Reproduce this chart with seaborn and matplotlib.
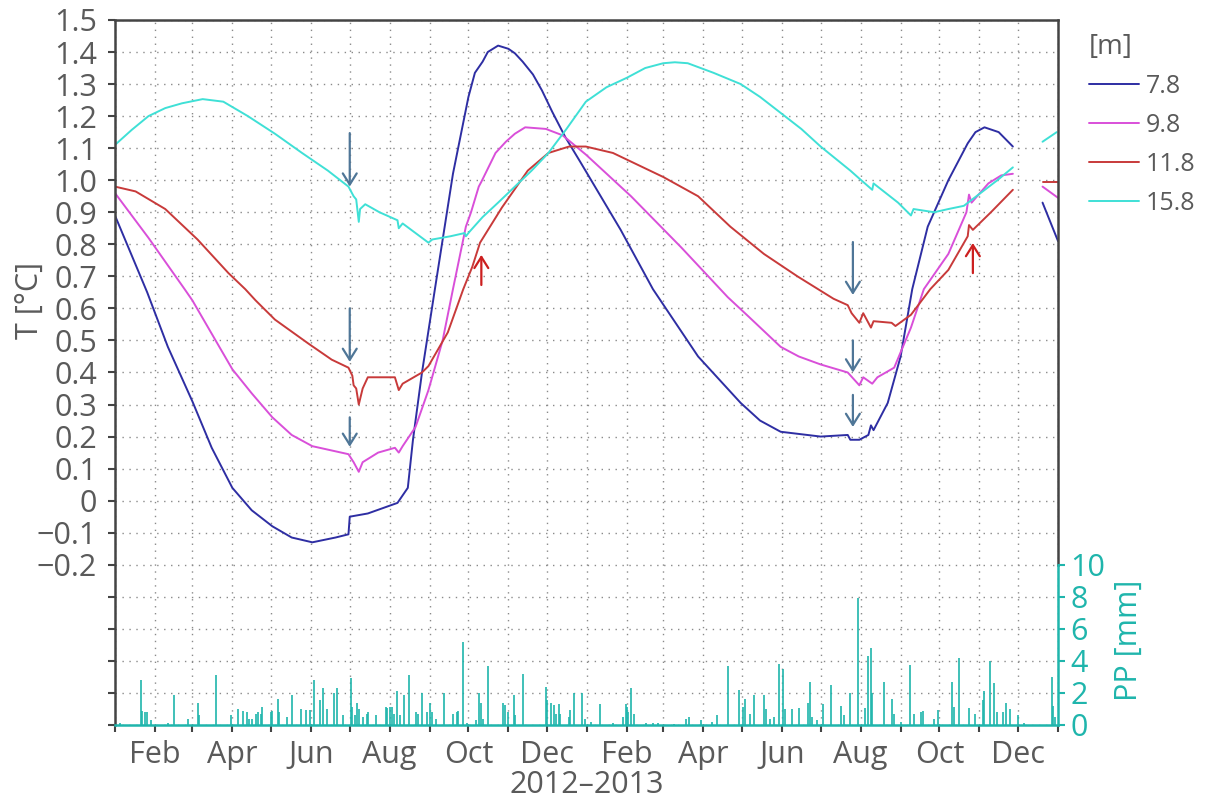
import numpy as np
import pandas as pd
import matplotlib
matplotlib.use('Agg')
import matplotlib.pyplot as plt
import matplotlib.dates as mdates
from matplotlib.ticker import FuncFormatter
import seaborn as sns

START = pd.Timestamp('2012-01-01')
END = pd.Timestamp('2014-01-01')
GAP_DAY = 705          # logger gap in Dec 2013

# ground temperature, days since 1 Jan 2012
day_78 = [0, 25, 41, 60, 75, 91, 106, 122, 137, 153, 171, 181, 182, 196, 219, 227, 231, 238, 248, 262,
          274, 279, 285, 289, 297, 305, 310, 316, 324, 331, 339, 349, 361, 392, 417, 452, 485, 500, 516, 547,
          568, 570, 577, 584, 586, 588, 599, 609, 618, 630, 646, 661, 667, 674, 685, 696, 719, 731]
t_78 = [0.89, 0.65, 0.48, 0.31, 0.165, 0.04, -0.03, -0.08, -0.115, -0.13, -0.115, -0.105, -0.05, -0.04, -0.007, 0.04, 0.19, 0.40, 0.66, 1.02,
        1.26, 1.335, 1.37, 1.40, 1.42, 1.41, 1.396, 1.37, 1.33, 1.28, 1.213, 1.135, 1.055, 0.845, 0.66, 0.45, 0.305, 0.25, 0.215, 0.20,
        0.205, 0.19, 0.19, 0.205, 0.235, 0.22, 0.305, 0.45, 0.66, 0.855, 1.0, 1.115, 1.15, 1.165, 1.15, 1.105, 0.93, 0.81]

day_98 = [0, 26, 54, 60, 91, 106, 122, 137, 153, 181, 185, 189, 192, 204, 217, 220, 223, 233, 243, 254,
          262, 272, 276, 282, 284, 295, 303, 310, 318, 334, 347, 365, 400, 439, 475, 491, 516, 530, 547, 568,
          577, 580, 587, 591, 604, 617, 627, 646, 660, 662, 664, 677, 687, 696, 719, 731]
t_98 = [0.96, 0.82, 0.66, 0.625, 0.41, 0.335, 0.26, 0.205, 0.17, 0.145, 0.12, 0.09, 0.12, 0.15, 0.165, 0.15, 0.17, 0.23, 0.345, 0.50,
        0.66, 0.855, 0.90, 0.98, 0.995, 1.085, 1.12, 1.145, 1.165, 1.16, 1.14, 1.08, 0.95, 0.79, 0.635, 0.575, 0.48, 0.45, 0.425, 0.40,
        0.36, 0.385, 0.365, 0.385, 0.415, 0.54, 0.66, 0.77, 0.90, 0.955, 0.93, 0.99, 1.015, 1.02, 0.98, 0.945]

day_118 = [0, 16, 39, 64, 88, 101, 109, 124, 150, 168, 181, 184, 185, 187, 189, 192, 196, 217, 220, 223,
           238, 243, 258, 270, 277, 283, 300, 320, 336, 352, 365, 386, 425, 452, 477, 503, 529, 557, 568, 571,
           577, 580, 586, 588, 602, 605, 617, 632, 646, 661, 662, 665, 679, 696, 719, 731]
t_118 = [0.98, 0.965, 0.91, 0.815, 0.71, 0.66, 0.625, 0.565, 0.49, 0.44, 0.415, 0.39, 0.36, 0.35, 0.30, 0.35, 0.385, 0.385, 0.345, 0.365,
         0.40, 0.42, 0.525, 0.66, 0.73, 0.805, 0.915, 1.03, 1.085, 1.105, 1.105, 1.085, 1.01, 0.95, 0.855, 0.77, 0.70, 0.63, 0.61, 0.585,
         0.555, 0.585, 0.54, 0.56, 0.555, 0.545, 0.58, 0.66, 0.72, 0.825, 0.86, 0.845, 0.90, 0.97, 0.995, 0.995]

day_158 = [0, 13, 26, 39, 52, 68, 84, 103, 124, 145, 165, 181, 185, 187, 189, 190, 194, 205, 219, 220,
           223, 238, 243, 246, 260, 271, 272, 275, 285, 297, 310, 323, 336, 350, 365, 381, 397, 411, 425, 434,
           444, 464, 485, 500, 516, 532, 547, 570, 577, 587, 588, 607, 617, 619, 635, 646, 658, 671, 684, 696,
           719, 730]
t_158 = [1.11, 1.157, 1.20, 1.225, 1.24, 1.253, 1.245, 1.20, 1.145, 1.085, 1.03, 0.98, 0.95, 0.94, 0.87, 0.91, 0.925, 0.90, 0.875, 0.85,
         0.865, 0.82, 0.805, 0.815, 0.825, 0.835, 0.825, 0.84, 0.885, 0.93, 0.98, 1.03, 1.085, 1.16, 1.245, 1.29, 1.32, 1.35, 1.365, 1.368,
         1.365, 1.335, 1.30, 1.26, 1.21, 1.16, 1.105, 1.03, 1.005, 0.97, 0.99, 0.93, 0.89, 0.91, 0.90, 0.91, 0.92, 0.96, 1.0, 1.04,
         1.12, 1.15]

depths = ['7.8', '9.8', '11.8', '15.8']
depth_colors = ['#2e2ea3', '#d94fd9', '#c83a3a', '#3fe0d6']

# daily precipitation (mm), days since 1 Jan 2012
pp_day = [4, 20, 21, 23, 25, 28, 41, 46, 57, 64, 65, 78, 90, 95, 99, 102, 104, 106, 109, 111,
          113, 114, 121, 122, 126, 127, 133, 137, 144, 148, 151, 154, 159, 161, 164, 170, 172, 177, 183, 184,
          186, 188, 189, 192, 195, 196, 202, 210, 211, 213, 215, 216, 219, 221, 224, 228, 233, 235, 238, 242,
          244, 246, 249, 255, 262, 265, 266, 270, 273, 280, 282, 284, 285, 289, 301, 302, 305, 309, 310, 316,
          334, 335, 338, 340, 342, 344, 345, 352, 353, 356, 362, 364, 369, 376, 386, 394, 396, 397, 398, 400,
          402, 412, 417, 421, 433, 443, 445, 454, 463, 467, 475, 484, 487, 488, 492, 495, 503, 505, 508, 511,
          515, 518, 519, 525, 530, 537, 539, 540, 544, 549, 555, 563, 565, 570, 576, 581, 584, 586, 587, 596,
          602, 604, 609, 616, 619, 625, 626, 635, 638, 649, 650, 654, 662, 667, 673, 674, 678, 681, 684, 688,
          691, 694, 700, 705, 726, 727, 729]
pp_mm = [0.15, 2.8, 0.9, 0.8, 0.8, 0.3, 0.15, 1.9, 0.35, 1.35, 0.6, 3.1, 0.6, 1.0, 0.9, 0.8, 0.35, 0.4, 0.7, 0.8,
         0.7, 1.15, 0.8, 0.9, 1.65, 0.8, 0.5, 1.9, 1.0, 0.95, 0.95, 2.8, 1.55, 2.3, 1.0, 2.0, 2.3, 0.6, 2.95, 1.15,
         0.6, 1.35, 1.0, 0.5, 0.7, 0.8, 0.6, 1.15, 1.05, 1.15, 1.15, 0.7, 2.1, 0.6, 1.9, 3.1, 0.8, 0.7, 2.0, 0.8,
         1.35, 0.8, 0.4, 2.0, 0.7, 0.8, 0.85, 5.2, 0.15, 0.3, 2.0, 1.35, 0.4, 3.65, 1.35, 1.25, 0.8, 1.9, 0.6, 3.2,
         2.4, 1.55, 1.4, 1.25, 0.7, 1.3, 0.7, 0.5, 0.95, 2.0, 2.0, 0.4, 0.2, 1.3, 0.15, 0.5, 1.3, 1.15, 0.8, 2.3,
         0.7, 0.15, 0.15, 0.15, 0.06, 0.35, 0.5, 0.3, 0.2, 0.6, 3.7, 2.2, 1.15, 1.6, 0.7, 1.9, 1.9, 1.0, 0.4, 0.5,
         3.8, 3.5, 1.0, 1.0, 1.05, 1.4, 2.7, 0.5, 0.3, 1.3, 2.5, 1.2, 0.6, 2.0, 7.9, 1.05, 4.3, 4.8, 2.0, 2.7,
         1.65, 0.7, 0.2, 3.75, 0.7, 0.8, 0.85, 0.4, 0.95, 2.7, 1.15, 4.2, 1.05, 0.7, 1.55, 2.15, 4.0, 2.65, 0.8, 0.8,
         1.4, 1.0, 0.6, 0.15, 3.0, 1.2, 0.5]

# arrows marking rain events: day, tail and tip temperature
arrow_day = [182, 182, 182, 572, 572, 572, 284, 665]
arrow_from = [1.147, 0.60, 0.26, 0.807, 0.50, 0.33, 0.673, 0.71]
arrow_to = [0.98, 0.433, 0.168, 0.642, 0.40, 0.23, 0.767, 0.804]
arrow_kind = ['cool', 'cool', 'cool', 'cool', 'cool', 'cool', 'warm', 'warm']

grey = '#5a5a5a'
dark = '#444444'
teal = '#1fb5ac'
arrow_colors = {'cool': '#4f7697', 'warm': '#cc1f1f'}

# long table for seaborn
frames = []
for name, d, t in zip(depths, [day_78, day_98, day_118, day_158], [t_78, t_98, t_118, t_158]):
    d = np.array(d)
    frames.append(pd.DataFrame({'depth': name,
                                'date': START + pd.to_timedelta(d, unit='D'),
                                'T': t,
                                'seg': (d > GAP_DAY).astype(int)}))
df = pd.concat(frames, ignore_index=True)
df['unit'] = df['depth'] + '_' + df['seg'].astype(str)

pp_dates = START + pd.to_timedelta(np.array(pp_day), unit='D')

sns.set_style('ticks')
plt.rcParams['font.family'] = ['Open Sans', 'DejaVu Sans']

fig = plt.figure(figsize=(12.1, 8.05), dpi=100)
ax = fig.add_axes([0.095, 0.0994, 0.7794, 0.8758])

sns.lineplot(data=df, x='date', y='T', hue='depth', hue_order=depths, palette=depth_colors,
             units='unit', estimator=None, linewidth=1.4, ax=ax)

for d, a, b, k in zip(arrow_day, arrow_from, arrow_to, arrow_kind):
    x = START + pd.Timedelta(days=d)
    ax.annotate('', xy=(x, b), xytext=(x, a),
                arrowprops=dict(arrowstyle='->,head_length=0.4,head_width=0.25',
                                color=arrow_colors[k], lw=1.6, mutation_scale=20,
                                shrinkA=0, shrinkB=0))

ax.set_xlim(START, END)
ax.set_ylim(-0.7, 1.5)
yt = np.round(np.arange(-0.7, 1.501, 0.1), 1)
ax.set_yticks(yt)


def tlabel(v, pos):
    if v < -0.25:
        return ''
    if abs(v) < 1e-9:
        return '0'
    return f'{v:.1f}'.replace('-', '\u2212')


ax.yaxis.set_major_formatter(FuncFormatter(tlabel))
ax.xaxis.set_major_locator(mdates.MonthLocator())
ax.xaxis.set_major_formatter(FuncFormatter(
    lambda v, pos: mdates.num2date(v).strftime('%b') if mdates.num2date(v).month % 2 == 0 else ''))

ax.grid(True, linestyle=(0, (1, 4)), color='#8a8a8a', linewidth=1.0)
ax.tick_params(axis='both', direction='out', length=5, width=1.5, color=dark,
               labelcolor=grey, labelsize=22)
ax.tick_params(axis='y', right=True, pad=8)
ax.tick_params(axis='x', pad=6)
for s in ['left', 'top', 'right']:
    ax.spines[s].set_color(dark)
    ax.spines[s].set_linewidth(1.8)
ax.spines['right'].set_bounds(-0.2, 1.5)
ax.spines['bottom'].set_color(teal)
ax.spines['bottom'].set_linewidth(1.8)

ax.set_ylabel('')
ax.set_xlabel('2012\u20132013', fontsize=22, color=grey, labelpad=0)
fig.text(30 / 1210, 1 - 300 / 805, 'T [°C]', rotation=90, ha='center', va='center',
         fontsize=22, color=grey)

# precipitation on the right axis
ax2 = ax.twinx()
ax2.vlines(pp_dates, 0, pp_mm, color=teal, linewidth=1.2)
ax2.set_ylim(0, 44)
ax2.set_yticks([0, 2, 4, 6, 8, 10])
ax2.tick_params(axis='y', direction='out', length=5, width=1.5, colors=teal, labelsize=22, pad=4)
for s in ['left', 'top', 'bottom']:
    ax2.spines[s].set_visible(False)
ax2.spines['right'].set_color(teal)
ax2.spines['right'].set_linewidth(1.8)
ax2.spines['right'].set_bounds(0, 10)
ax2.set_ylabel('')
fig.text(1129 / 1210, 1 - 640 / 805, 'PP [mm]', rotation=90, ha='center', va='center',
         fontsize=22, color=teal)

sns.move_legend(ax, 'upper left', bbox_to_anchor=(1066 / 1210, 1 - 10 / 805),
                bbox_transform=fig.transFigure, title='[m]', frameon=False,
                fontsize=18, title_fontsize=20, handlelength=2.0, handletextpad=0.3,
                labelspacing=0.55, alignment='left', labelcolor=grey)
leg = ax.get_legend()
leg.get_title().set_color(grey)

fig.savefig('out.png', dpi=100)
